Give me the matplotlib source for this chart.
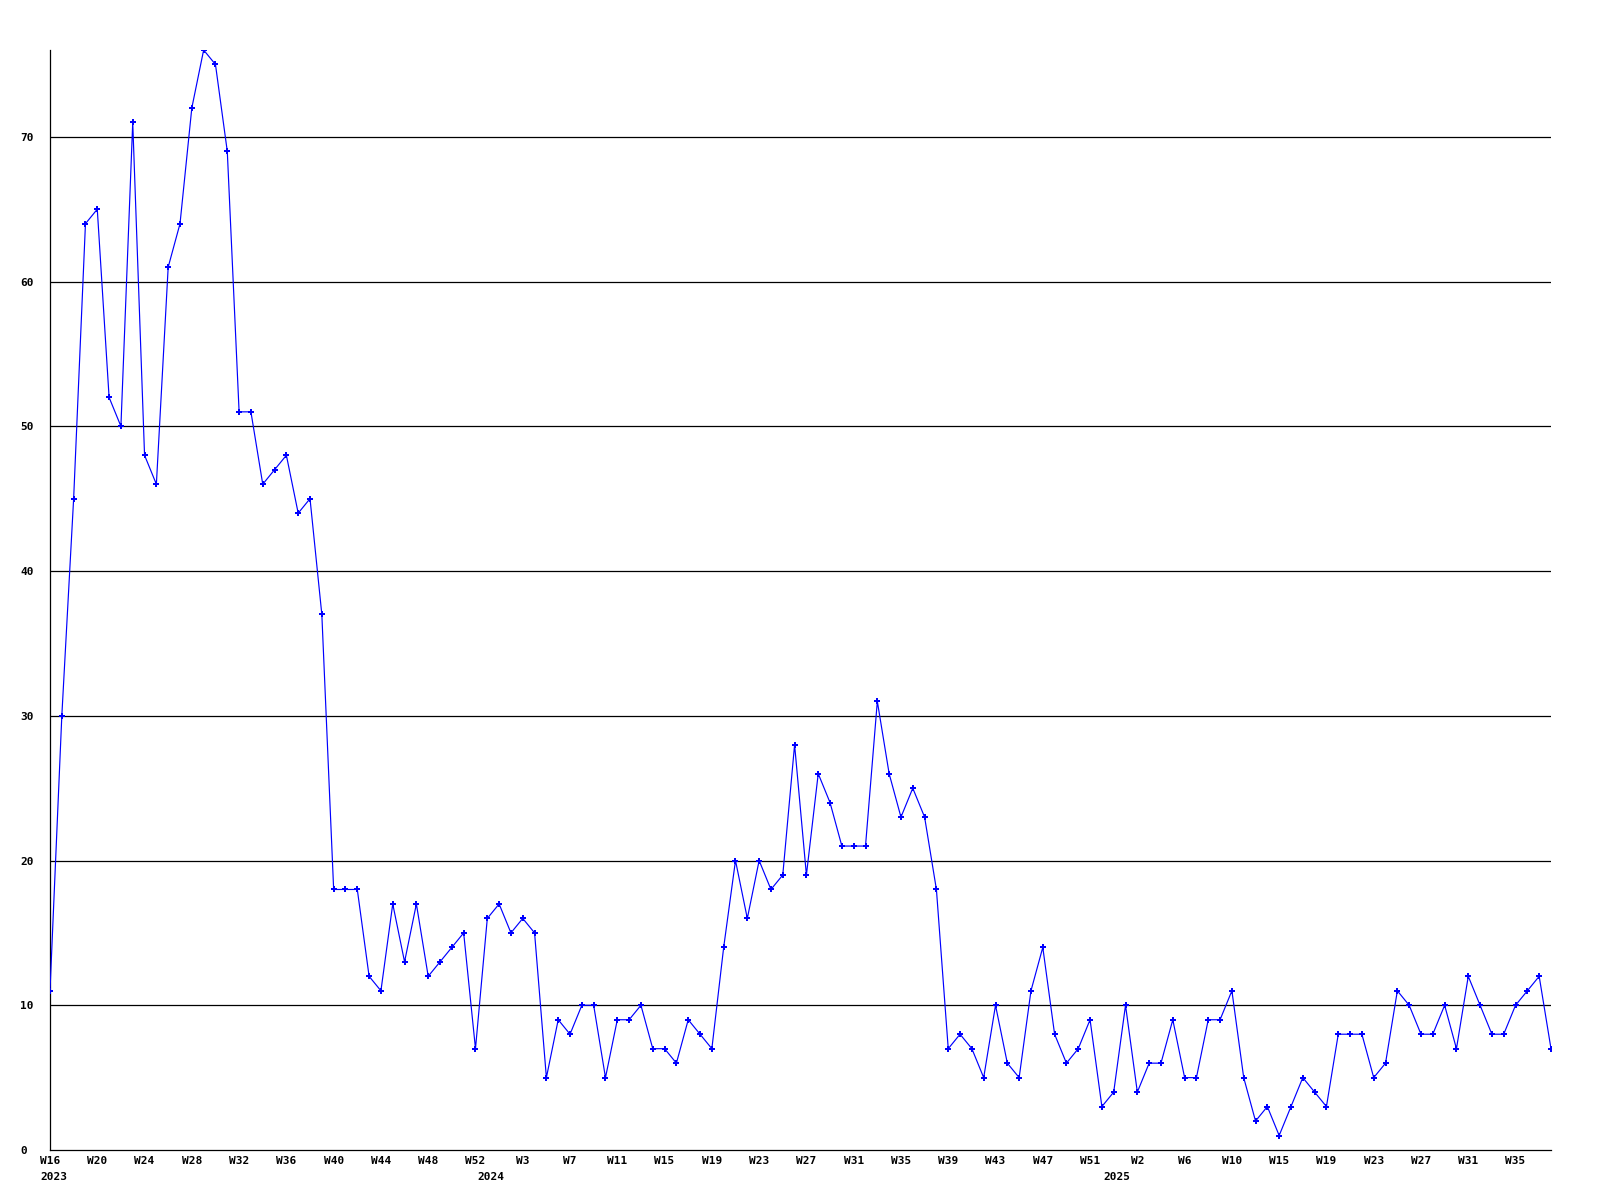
import matplotlib
matplotlib.use("Agg")
import matplotlib.pyplot as plt
import matplotlib.transforms as mtransforms

values = [11, 30, 45, 64, 65, 52, 50, 71, 48, 46, 61, 64, 72, 76, 75, 69,
          51, 51, 46, 47, 48, 44, 45, 37, 18, 18, 18, 12, 11, 17, 13, 17,
          12, 13, 14, 15, 7, 16, 17, 15, 16, 15, 5, 9, 8, 10, 10, 5,
          9, 9, 10, 7, 7, 6, 9, 8, 7, 14, 20, 16, 20, 18, 19, 28,
          19, 26, 24, 21, 21, 21, 31, 26, 23, 25, 23, 18, 7, 8, 7, 5,
          10, 6, 5, 11, 14, 8, 6, 7, 9, 3, 4, 10, 4, 6, 6, 9,
          5, 5, 9, 9, 11, 5, 2, 3, 1, 3, 5, 4, 3, 8, 8, 8,
          5, 6, 11, 10, 8, 8, 10, 7, 12, 10, 8, 8, 10, 11, 12, 7]

week_labels = ["W16", "W20", "W24", "W28", "W32", "W36", "W40", "W44", "W48", "W52",
               "W3", "W7", "W11", "W15", "W19", "W23", "W27", "W31", "W35", "W39",
               "W43", "W47", "W51", "W2", "W6", "W10", "W15", "W19", "W23", "W27",
               "W31", "W35"]
year_labels = ["2023", "2024", "2025"]
year_index = [0, 37, 90]
y_ticks = [0, 10, 20, 30, 40, 50, 60, 70]

W, H = 1600, 1200
fig = plt.figure(figsize=(16, 12), dpi=100)
ax = fig.add_axes([50 / W, 1 - 1150 / H, (1551 - 50) / W, (1150 - 50) / H])

x = list(range(len(values)))
ax.plot(x, values, color=(0, 0, 1), lw=0.85, marker="P", markersize=4.2,
        markeredgewidth=0, zorder=3)

ax.set_xlim(0, len(values) - 1)
ax.set_ylim(0, 76)

for yv in y_ticks[1:]:
    ax.axhline(yv, color="black", lw=0.9, zorder=1)

for s in ["top", "right"]:
    ax.spines[s].set_visible(False)
for s in ["left", "bottom"]:
    ax.spines[s].set_color("black")
    ax.spines[s].set_linewidth(0.9)

font = dict(family="DejaVu Sans Mono", weight="bold", size=8)

ax.set_yticks(y_ticks)
ax.set_yticklabels([str(v) for v in y_ticks], **font)
ax.tick_params(axis="y", length=0, pad=21.6)
for lab in ax.get_yticklabels():
    lab.set_horizontalalignment("left")

ax.set_xticks(list(range(0, 4 * len(week_labels), 4)))
ax.set_xticklabels(week_labels, **font)
ax.tick_params(axis="x", length=0, pad=4.5)

trans = mtransforms.blended_transform_factory(ax.transData, ax.transAxes)
for yl, xi in zip(year_labels, year_index):
    ax.text(xi - 0.85, -27 / 1100, yl, transform=trans, ha="left", va="center", **font)

fig.savefig("out.png", dpi=100, facecolor="white")
